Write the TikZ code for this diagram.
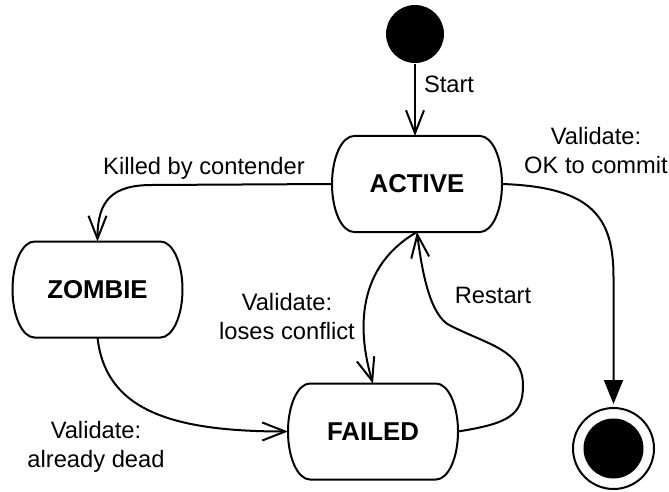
\documentclass[tikz,border=0pt]{standalone}
\usepackage{fontspec}
\setmainfont{Liberation Sans}
\usetikzlibrary{arrows.meta}

% Outline of a state: straight top and bottom, elliptic sides
\newcommand\stateoutline[1]{%
  \draw ([xshift=22pt]#1.north west) -- ([xshift=-22pt]#1.north east)
    arc[start angle=90, end angle=-90, x radius=22pt, y radius=48pt]
    -- ([xshift=22pt]#1.south west)
    arc[start angle=270, end angle=90, x radius=22pt, y radius=48pt] -- cycle;}

\begin{document}
\begin{tikzpicture}[x=1pt, y=-1pt, line width=2pt,
  lbl/.style={font=\fontsize{23.7pt}{28.5pt}\selectfont, inner sep=0pt, align=center},
  statebox/.style={font=\fontsize{25.8pt}{30pt}\selectfont\bfseries,
    minimum width=170pt, minimum height=96pt, inner sep=0pt, outer sep=0pt},
  open/.style={-{Straight Barb[length=23pt, width=18pt]}},
  closed/.style={-{Triangle[length=24pt, width=19pt]}},
]
\useasboundingbox (0,0) rectangle (669,492);

% initial and final pseudo-states
\node[circle, fill, minimum size=58pt, inner sep=0pt] (start) at (415,34) {};
\node[circle, draw, minimum size=81pt, inner sep=0pt] (final) at (613.5,448.5) {};
\node[circle, fill, minimum size=60pt, inner sep=0pt] (finaldot) at (final) {};

% states
\node[statebox] (active) at (417,184) {ACTIVE};
\node[statebox] (zombie) at (97.5,289.5) {ZOMBIE};
\node[statebox] (failed) at (373,431.5) {FAILED};
\stateoutline{active}
\stateoutline{zombie}
\stateoutline{failed}

% transitions
\draw[open] (start.south) -- (start.south |- active.north);
\draw[open] (active.west) -- ++(-180,1)
  .. controls +(-40,0) and +(0,-41) .. (zombie.north);
\draw[closed, shorten >=3pt] (active.east)
  .. controls +(90,3) and +(0,-60) .. ([yshift=130pt]final.north) -- (final.north);
\draw[open] (active.south)
  .. controls +(-66,38) and +(-13,-43) .. (failed.north);
\draw[open] (failed.east)
  .. controls +(50,-8) and +(0,30) .. ++(65,-46)
  .. controls +(0,-35) and +(40,20) .. ++(-73,-60)
  .. controls +(-20,-10) and +(5,40) .. (active.south);
\draw[open] (zombie.south)
  .. controls +(8,72) and +(-118,0) .. (failed.west);

% labels (base anchor sits on the last line)
\node[lbl, anchor=base west] (lstart) at (423,93) {Start};
\node[lbl, anchor=base] (lcommit) at (596,173) {Validate:\\OK to commit};
\node[lbl, anchor=base] (lkilled) at (204,175) {Killed by contender};
\node[lbl, anchor=base] (lloses) at (287,339) {Validate:\\loses conflict};
\node[lbl, anchor=base] (lrestart) at (493,303) {Restart};
\node[lbl, anchor=base] (ldead) at (96,467) {Validate:\\already dead};
\end{tikzpicture}
\end{document}
